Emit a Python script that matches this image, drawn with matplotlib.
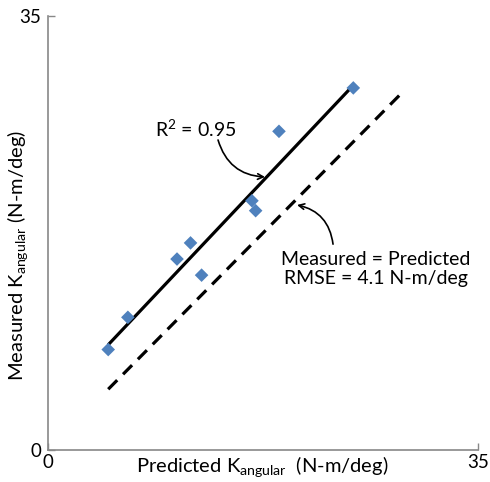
import numpy as np
import matplotlib
matplotlib.use("Agg")
import matplotlib.pyplot as plt

plt.rcParams['font.family'] = ['Lato', 'DejaVu Sans']
plt.rcParams['mathtext.fontset'] = 'custom'
plt.rcParams['mathtext.rm'] = 'Lato'
plt.rcParams['mathtext.it'] = 'Lato:italic'

# predicted vs measured stiffness (N-m/deg)
predicted = [4.9, 6.5, 10.5, 11.6, 12.5, 16.6, 16.9, 18.8, 24.85]
measured = [8.1, 10.7, 15.4, 16.7, 14.1, 20.1, 19.3, 25.7, 29.2]
unity_range = [4.9, 28.8]
axis_ticks = [0, 35]

fig = plt.figure(figsize=(4.9, 4.82), dpi=100)
ax = fig.add_axes([0.098, 0.0664, 0.8775, 0.9004])

# regression line over the data range
slope, icept = np.polyfit(predicted, measured, 1)
xr = np.array([min(predicted), max(predicted)])
ax.plot(xr, slope * xr + icept, color='black', lw=2.3, solid_capstyle='butt', zorder=2)

# measured = predicted
ax.plot(unity_range, unity_range, color='black', lw=2.3,
        linestyle=(0, (4, 2.6)), dash_capstyle='butt', zorder=2)

ax.scatter(predicted, measured, marker='D', s=48, color='#4F81BD', edgecolor='none', zorder=3)

ax.set_xlim(axis_ticks)
ax.set_ylim(axis_ticks)
ax.set_xticks(axis_ticks)
ax.set_yticks(axis_ticks)
ax.tick_params(direction='in', length=5, width=1, color='#888888', labelsize=13.5)
ax.tick_params(axis='x', pad=3)
ax.tick_params(axis='y', pad=5)
for s in ['top', 'right']:
    ax.spines[s].set_visible(False)
for s in ['left', 'bottom']:
    ax.spines[s].set_color('#888888')
    ax.spines[s].set_linewidth(1.2)

ax.set_xlabel('Predicted K$_\\mathregular{angular}$  (N-m/deg)', fontsize=14.5, va='center')
ax.set_ylabel('Measured K$_\\mathregular{angular}$ (N-m/deg)', fontsize=14.5, va='center')
ax.xaxis.set_label_coords(0.498, -0.039)
ax.yaxis.set_label_coords(-0.07, 0.449)

# R^2 label with curved arrow to the fit line
ax.text(12.05, 25.9, 'R$^\\mathregular{2}$ = 0.95', ha='center', va='center', fontsize=14)
ax.annotate('', xy=(17.66, 22.02), xytext=(13.84, 25.0),
            arrowprops=dict(arrowstyle='->', color='black', lw=1.2, shrinkA=0, shrinkB=0,
                            connectionstyle='arc3,rad=0.35'))

# unity line label with curved arrow
ax.text(26.7, 14.6, 'Measured = Predicted\nRMSE = 4.1 N-m/deg', ha='center', va='center',
        fontsize=14, linespacing=1.15)
ax.annotate('', xy=(20.27, 19.76), xytext=(23.2, 16.6),
            arrowprops=dict(arrowstyle='->', color='black', lw=1.2, shrinkA=0, shrinkB=0,
                            connectionstyle='arc3,rad=0.35'))

fig.savefig('out.png', dpi=100)
